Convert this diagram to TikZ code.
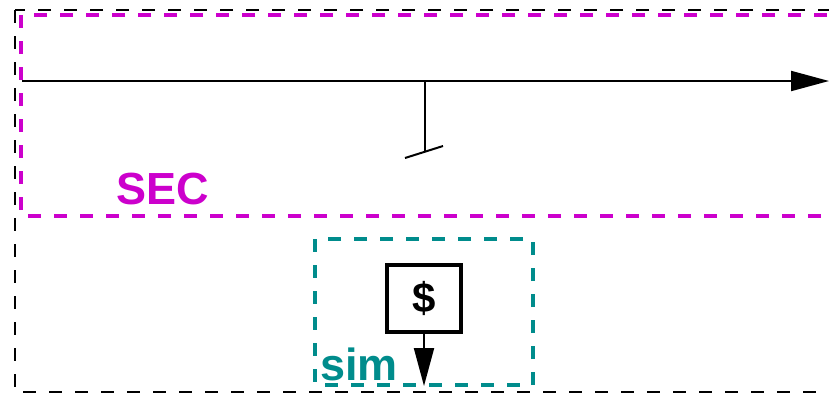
\documentclass[tikz,border=0pt]{standalone}
\usepackage{fontspec}
\setmainfont{Liberation Sans}
\usetikzlibrary{arrows.meta, positioning}
\definecolor{secmagenta}{RGB}{204,0,204}
\definecolor{simteal}{RGB}{0,140,140}
\tikzstyle{outerbox} = [
    draw=black,
    line width=2pt,
    dash pattern=on 13pt off 13pt
]
\tikzstyle{secbox} = [
    draw=secmagenta,
    line width=4pt,
    dash pattern=on 13pt off 13pt
]
\tikzstyle{simbox} = [
    draw=simteal,
    line width=4pt,
    dash pattern=on 13pt off 13pt
]
\tikzstyle{process} = [
    rectangle,
    minimum width=74pt,
    minimum height=67pt,
    line width=4pt,
    inner sep=0pt,
    draw=black
]
\tikzstyle{bigtext} = [
    font=\fontsize{45}{54}\selectfont\bfseries,
    inner sep=0pt
]
\tikzstyle{arrow} = [line width=2pt,-{Triangle[length=38pt,width=20pt]}]

\begin{document}
\begin{tikzpicture}[x=1pt,y=-1pt]

\useasboundingbox (0,0) rectangle (829,392);
\clip (0,0) rectangle (829,392);

% frames
\draw [outerbox] (15,10) rectangle (860,392);
\draw [secbox] (21,15) rectangle (860,216);
\draw [simbox] (315,239) rectangle (533,385);

% labels
\node (sec) [bigtext, text=secmagenta] at (163,189) {SEC};
\node (sim) [bigtext, text=simteal, anchor=base west] at (320,380) {sim};

% main line
\coordinate (linestart) at (22,81);
\coordinate (lineend) at (829,81);
\coordinate (branch) at (425,81);
\coordinate (stub) at (425,152);
\coordinate (tickleft) at (405,158);
\coordinate (tickright) at (443,146);
\draw [arrow] (linestart) -- (lineend);
\draw [line width=2pt] (branch) -- (stub);
\draw [line width=2pt] (tickleft) -- (tickright);

% sim block
\node (dollar) [process, bigtext] at (424,298.5)
{\fontsize{42}{50}\selectfont\$};
\coordinate (simout) at (424,386);
\draw [arrow] (dollar.south) -- (simout);

\end{tikzpicture}
\end{document}
